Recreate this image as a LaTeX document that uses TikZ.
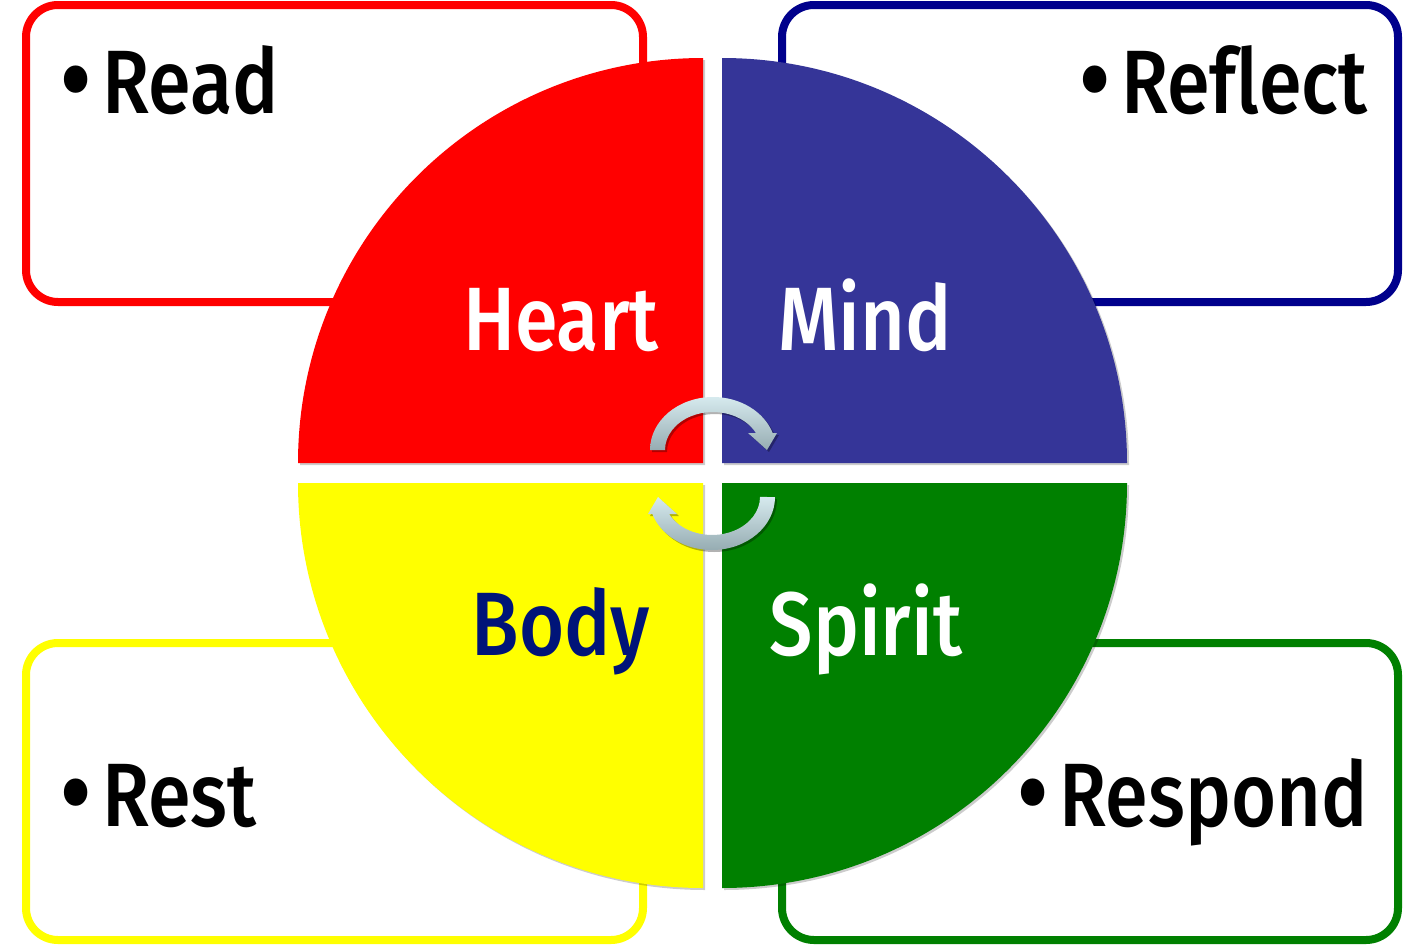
\documentclass[tikz,border=0pt]{standalone}
\usepackage{fontspec}
\usetikzlibrary{shadows}
\newfontfamily\labfont[FakeStretch=0.86, Ligatures=NoCommon]{Fira Sans Medium}
\definecolor{qred}{RGB}{255,0,0}
\definecolor{qblue}{RGB}{53,53,152}
\definecolor{qyellow}{RGB}{255,255,0}
\definecolor{qgreen}{RGB}{0,128,0}
\definecolor{bnavy}{RGB}{0,0,140}
\definecolor{bodytxt}{RGB}{0,20,120}
\definecolor{arrlight}{RGB}{214,234,238}
\definecolor{arrdark}{RGB}{150,172,178}
\tikzset{
  box/.style={line width=8pt, rounded corners=32pt, fill=white},
  quarter/.style={drop shadow={shadow xshift=2pt, shadow yshift=-2pt, opacity=0.2, fill=black}},
  bigtxt/.style={inner sep=0pt, font=\labfont\fontsize{90}{100}\selectfont},
  cyc/.style={top color=arrlight, bottom color=arrdark, draw=none,
    drop shadow={shadow xshift=2pt, shadow yshift=-2pt, opacity=0.3, fill=black}}
}
\newcommand{\mybul}{\raisebox{-0.04em}{\scalebox{1.2}{•}}\hspace{0.12em}}
\begin{document}
\begin{tikzpicture}[x=1pt,y=-1pt]
\useasboundingbox (0,0) rectangle (1425,948);
\fill[white] (0,0) rectangle (1425,948);
% boxes
\draw[box, draw=qred] (26,5) rectangle (643,302);
\draw[box, draw=bnavy] (782,5) rectangle (1398,302);
\draw[box, draw=qyellow] (26,643) rectangle (643,940);
\draw[box, draw=qgreen] (782,643) rectangle (1398,940);
% quarters
\fill[qred, quarter] (703,463) -- ++(-405,0) arc[start angle=180, end angle=90, radius=405pt] -- cycle;
\fill[qblue, quarter] (722,463) -- ++(0,-405) arc[start angle=90, end angle=0, radius=405pt] -- cycle;
\fill[qyellow, quarter] (703,483) -- ++(-405,0) arc[start angle=180, end angle=270, radius=405pt] -- cycle;
\fill[qgreen, quarter] (722,483) -- ++(405,0) arc[start angle=0, end angle=-90, radius=405pt] -- cycle;
% cycle arrows
\begin{scope}[shift={(713,450)}, y=1pt]
\path[cyc] (-63,0) arc[start angle=180, end angle=18.7, x radius=63pt, y radius=53pt]
  -- (64,17) -- (54,0) -- (35,17) -- (42.9,17)
  arc[start angle=26.6, end angle=180, x radius=48pt, y radius=38pt] -- cycle;
\end{scope}
\begin{scope}[shift={(712,497)}, y=1pt]
\path[cyc] (63,0) arc[start angle=0, end angle=-161.3, x radius=63pt, y radius=53pt]
  -- (-64,-17) -- (-54,0) -- (-35,-17) -- (-42.9,-17)
  arc[start angle=206.6, end angle=360, x radius=48pt, y radius=38pt] -- cycle;
\end{scope}
% labels
\node[bigtxt, white, anchor=base] (heart) at (561,350) {Heart};
\node[bigtxt, white, anchor=base] (mind) at (865,350) {Mind};
\node[bigtxt, bodytxt, anchor=base] (body) at (561,655) {Body};
\node[bigtxt, white, anchor=base] (spirit) at (866,655) {Spirit};
\node[bigtxt, anchor=base west] (read) at (60,113) {\mybul Read};
\node[bigtxt, anchor=base east] (reflect) at (1368,113) {\mybul Reflect};
\node[bigtxt, anchor=base west] (rest) at (60,826) {\mybul Rest};
\node[bigtxt, anchor=base east] (respond) at (1368,826) {\mybul Respond};
\end{tikzpicture}
\end{document}
